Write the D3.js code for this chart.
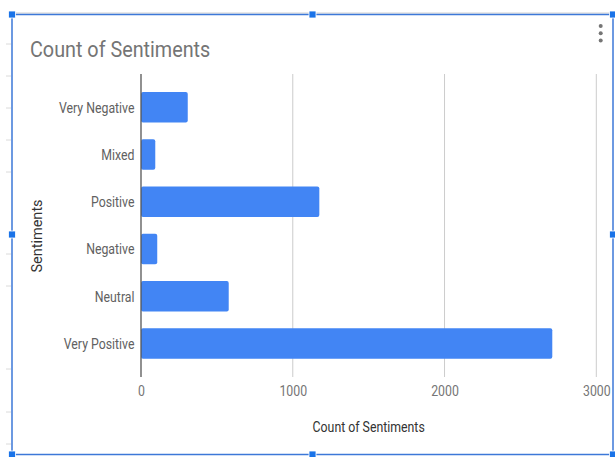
<!DOCTYPE html>
<html>
<head>
<meta charset="utf-8">
<script src="https://cdn.jsdelivr.net/npm/d3@7"></script>
<style>
  html, body { margin: 0; padding: 0; background: #fff; }
  svg { display: block; font-family: Roboto, "Noto Sans", Arial, sans-serif; }
</style>
</head>
<body>
<svg id="chart" width="615" height="457"></svg>
<script>
// Sentiment categories, top to bottom
const categories = ["Very Negative", "Mixed", "Positive", "Negative", "Neutral", "Very Positive"];
// Count for each category
const counts = [308, 94, 1175, 107, 578, 2710];
// Horizontal axis ticks
const xTicks = [0, 1000, 2000, 3000];

const svg = d3.select("#chart");
const squeeze = 0.88; // narrow glyph width used for horizontal labels

// Sheet row lines peeking out left of the embedded chart
const rowLines = [44, 76, 108, 140, 172, 254, 286, 369, 412, 444];
svg.selectAll("line.row").data(rowLines).enter().append("line")
  .attr("x1", 6).attr("x2", 11).attr("y1", d => d).attr("y2", d => d)
  .attr("stroke", "#dadada").attr("stroke-width", 1);

// Plot geometry
const x0 = 141, x1 = 596.3;
const yTop = 74, yBot = 377;

const x = d3.scaleLinear().domain([0, 3000]).range([x0, x1]);
const y = d3.scaleBand().domain(categories).range([83.5, 367.3]).paddingInner(0.355).paddingOuter(0.18);

// Vertical gridlines
svg.append("g").selectAll("line").data(xTicks.filter(d => d > 0)).enter().append("line")
  .attr("x1", d => x(d)).attr("x2", d => x(d))
  .attr("y1", yTop).attr("y2", yBot)
  .attr("stroke", "#cccccc").attr("stroke-width", 1);

// Bars
svg.append("g").selectAll("rect").data(categories).enter().append("rect")
  .attr("x", x(0))
  .attr("y", d => y(d))
  .attr("width", (d, i) => x(counts[i]) - x(0))
  .attr("height", y.bandwidth())
  .attr("rx", 2).attr("ry", 2)
  .attr("fill", "#4285f4");

// Zero baseline
svg.append("line")
  .attr("x1", x(0)).attr("x2", x(0)).attr("y1", yTop).attr("y2", yBot)
  .attr("stroke", "#555").attr("stroke-width", 1.3);

// Category labels
const yAxis = d3.axisLeft(y).tickSize(0).tickPadding(6.5 / squeeze);
const gy = svg.append("g").attr("transform", `translate(${x(0)},0)`).call(yAxis);
gy.select(".domain").remove();
gy.selectAll("text")
  .attr("dy", "0.38em")
  .attr("transform", `scale(${squeeze},1)`)
  .attr("font-size", 14).attr("fill", "#616161")
  .attr("font-family", "Roboto, sans-serif");

// Value tick labels
const xAxis = d3.axisBottom(x).tickValues(xTicks).tickSize(0).tickPadding(0).tickFormat(d3.format("d"));
const gx = svg.append("g").attr("transform", `translate(0,${yBot + 19})`).call(xAxis);
gx.select(".domain").remove();
gx.selectAll("text")
  .attr("dy", 0)
  .attr("transform", `scale(${squeeze},1)`)
  .attr("font-size", 14).attr("fill", "#757575")
  .attr("font-family", "Roboto, sans-serif");

// Chart title
svg.append("text")
  .attr("transform", "translate(30,56.5) scale(0.9,1)")
  .attr("font-size", 22).attr("fill", "#757575")
  .text("Count of Sentiments");

// Axis titles
svg.append("text")
  .attr("transform", `translate(${(x0 + x1) / 2},431.5) scale(${squeeze},1)`)
  .attr("text-anchor", "middle")
  .attr("font-size", 14).attr("fill", "#333")
  .text("Count of Sentiments");

svg.append("text")
  .attr("transform", `translate(41.7,236) rotate(-90)`)
  .attr("text-anchor", "middle")
  .attr("font-size", 14.5).attr("fill", "#333")
  .text("Sentiments");

// Overflow menu dots
svg.append("g").selectAll("circle").data([26, 33.3, 40.6]).enter().append("circle")
  .attr("cx", 600.7).attr("cy", d => d).attr("r", 2)
  .attr("fill", "#757575");

// Selection frame with resize handles
const fL = 12, fT = 14.5, fR = 613, fB = 454.5;
svg.append("line").attr("x1", fL).attr("x2", fR).attr("y1", fT - 1.5).attr("y2", fT - 1.5)
  .attr("stroke", "#d0d0d0").attr("stroke-width", 1);
svg.append("rect")
  .attr("x", fL).attr("y", fT).attr("width", fR - fL).attr("height", fB - fT)
  .attr("fill", "none").attr("stroke", "#3c78d8").attr("stroke-width", 1.5);

const handles = [
  [fL, fT], [(fL + fR) / 2, fT], [fR, fT],
  [fL, (fT + fB) / 2], [fR, (fT + fB) / 2],
  [fL, fB], [(fL + fR) / 2, fB], [fR, fB]
];
svg.append("g").selectAll("rect").data(handles).enter().append("rect")
  .attr("x", d => d[0] - 3.5).attr("y", d => d[1] - 3.5)
  .attr("width", 7).attr("height", 7)
  .attr("fill", "#1a73e8").attr("stroke", "#fff").attr("stroke-width", 0.8);
</script>
</body>
</html>
